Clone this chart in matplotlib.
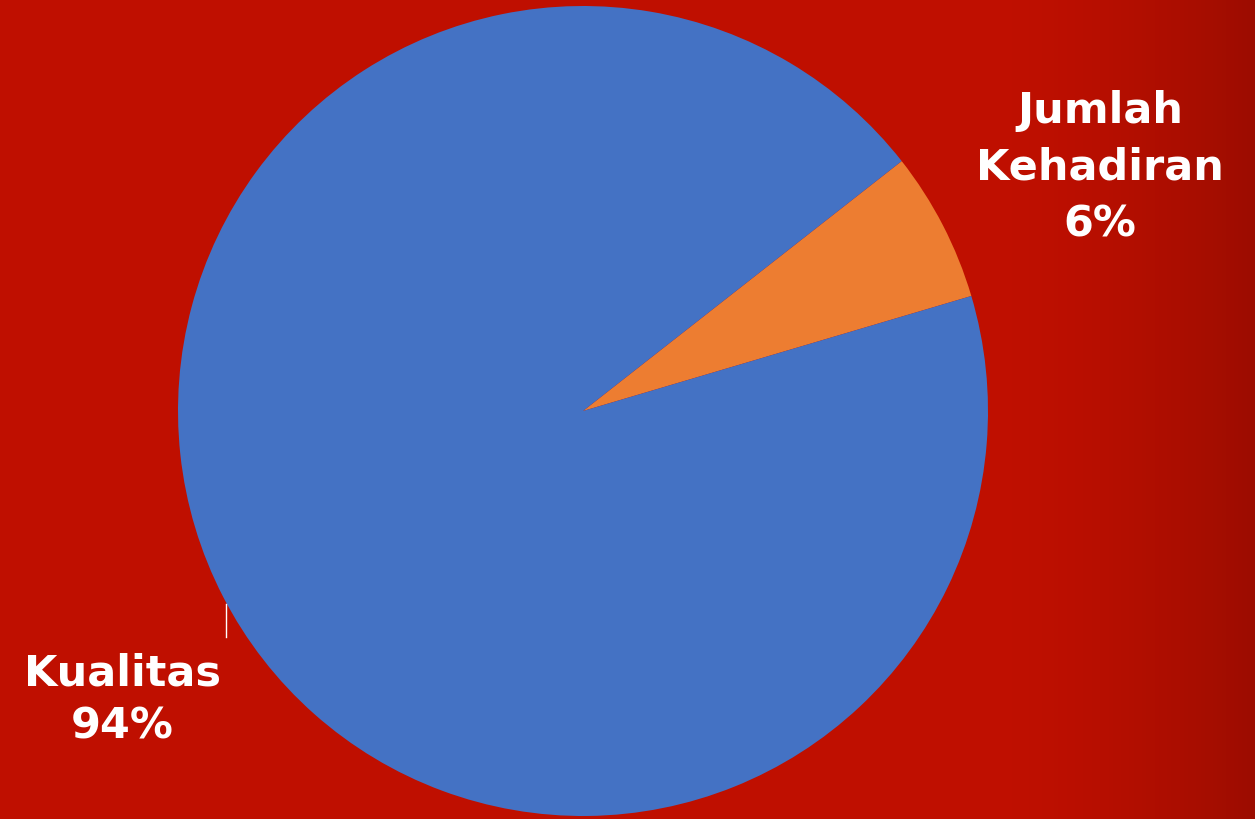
import numpy as np
import matplotlib.pyplot as plt

# data
labels = ['Jumlah\nKehadiran', 'Kualitas']
values = [6, 94]
colors = ['#ED7D31', '#4472C4']

W, H = 1255, 820
fig = plt.figure(figsize=(W / 100, H / 100), dpi=100)
ax = fig.add_axes([0, 0, 1, 1])

# red background, a bit darker toward the right edge
xx = np.linspace(0, 1, 300)
shade = 1 - 0.18 * np.clip((xx - 0.8) / 0.2, 0, 1) ** 1.5
base = np.array([0.75, 0.06, 0.0])
bg = np.tile((base[None, :] * shade[:, None])[None, :, :], (10, 1, 1))
ax.imshow(bg, extent=[0, W, 0, H], aspect='auto', zorder=0)

wedges, _ = ax.pie(values, colors=colors, startangle=16.5, counterclock=True,
                   center=(583, 408), radius=405, frame=True,
                   wedgeprops={'linewidth': 0})
ax.set_xlim(0, W)
ax.set_ylim(0, H)
ax.set_aspect('auto')
ax.axis('off')

font = dict(color='white', fontsize=31, fontweight='heavy', family='DejaVu Sans',
            ha='center', va='center')
ax.text(1100, 820 - 168, '{}\n{}%'.format(labels[0], values[0]),
        linespacing=1.45, **font)
ax.text(122, 820 - 700, '{}\n{}%'.format(labels[1], values[1]),
        linespacing=1.35, **font)

# small leader line for Kualitas
ax.plot([226, 226], [820 - 605, 820 - 638], color='white', lw=1)

fig.savefig('out.png', dpi=100)
